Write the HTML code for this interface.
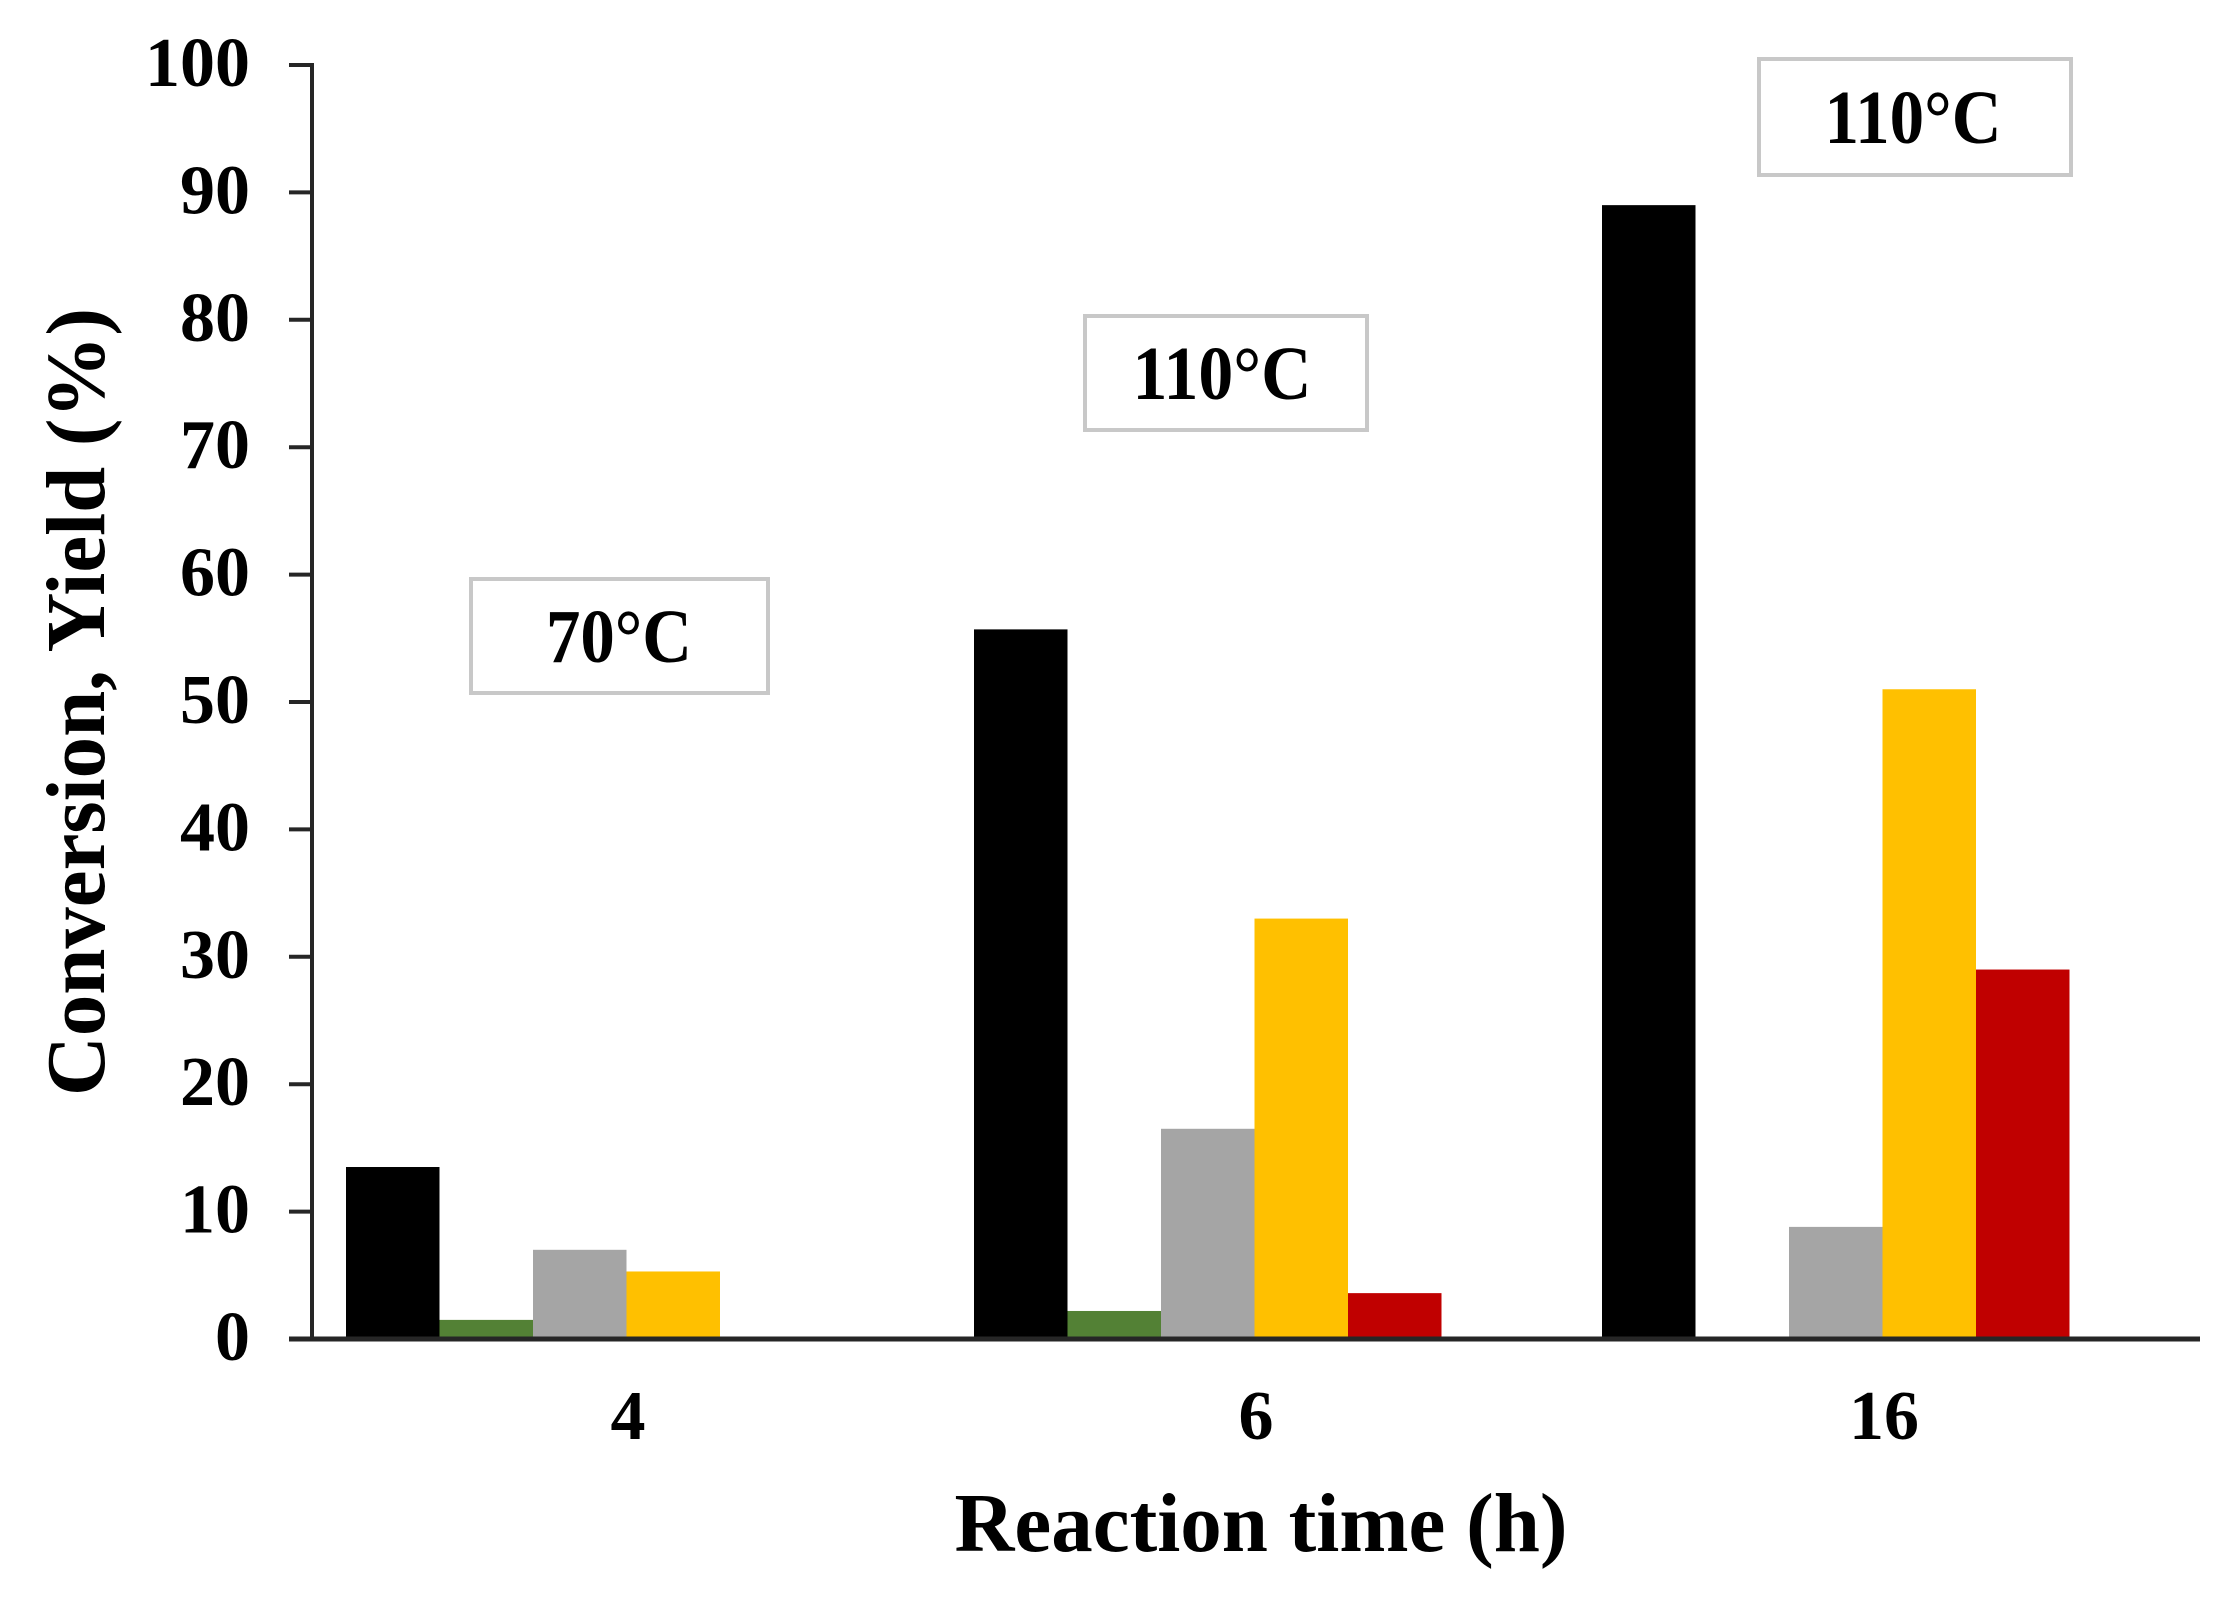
<!DOCTYPE html>
<html><head><meta charset="utf-8"><style>
html,body{margin:0;padding:0;background:#fff;}
svg{display:block;}
text{font-family:"Liberation Serif",serif;font-weight:bold;fill:#000;}
</style></head><body>
<svg id="chart" width="2235" height="1598" viewBox="0 0 2235 1598" xmlns="http://www.w3.org/2000/svg">
<g id="bars"></g>
<g id="axes"></g>
<g>
<rect x="471" y="579" width="297" height="114" fill="#fff" stroke="#c8c8c8" stroke-width="4"/>
<text x="619" y="662" font-size="76" text-anchor="middle" textLength="146" lengthAdjust="spacingAndGlyphs">70°C</text>
</g>
<g>
<rect x="1085" y="316" width="282" height="114" fill="#fff" stroke="#c8c8c8" stroke-width="4"/>
<text x="1222" y="399" font-size="76" text-anchor="middle" textLength="179" lengthAdjust="spacingAndGlyphs">110°C</text>
</g>
<g>
<rect x="1759" y="59" width="312" height="116" fill="#fff" stroke="#c8c8c8" stroke-width="4"/>
<text x="1913" y="143" font-size="76" text-anchor="middle" textLength="177" lengthAdjust="spacingAndGlyphs">110°C</text>
</g>
<text x="1261" y="1551" font-size="84" text-anchor="middle" textLength="613" lengthAdjust="spacingAndGlyphs">Reaction time (h)</text>
<text transform="translate(104,702) rotate(-90)" x="0" y="0" font-size="84" text-anchor="middle" textLength="788" lengthAdjust="spacingAndGlyphs">Conversion, Yield (%)</text>
</svg>
<script>
const categories = ["4", "6", "16"];
const conversion = [13.5, 55.7, 89];
const yieldGreen = [1.5, 2.2, 0];
const yieldGray = [7, 16.5, 8.8];
const yieldYellow = [5.3, 33, 51];
const yieldRed = [0, 3.6, 29];
const yTicks = [0, 10, 20, 30, 40, 50, 60, 70, 80, 90, 100];

const NS = "http://www.w3.org/2000/svg";
const y0 = 1339, yTop = 65, axisX = 312, axisEnd = 2200;
function yScale(v){ return y0 - (v/100)*(y0 - yTop); }
const groupW = 628, firstCenter = 628;
function xCenter(i){ return firstCenter + i*groupW; }
const barW = 93.5, barOffset = -282;
const series = [
  {name:"conversion", vals:conversion, color:"#000000"},
  {name:"green", vals:yieldGreen, color:"#538135"},
  {name:"gray", vals:yieldGray, color:"#a5a5a5"},
  {name:"yellow", vals:yieldYellow, color:"#ffc000"},
  {name:"red", vals:yieldRed, color:"#c00000"}
];
const bars = document.getElementById('bars');
categories.forEach((c, i) => {
  series.forEach((s, j) => {
    const v = s.vals[i];
    if (v <= 0) return;
    const r = document.createElementNS(NS, 'rect');
    
    
    const x = xCenter(i) + barOffset + j*barW;
    r.setAttribute('x', x);
    r.setAttribute('y', yScale(v));
    r.setAttribute('width', barW);
    r.setAttribute('height', y0 - yScale(v));
    r.setAttribute('fill', s.color);
    bars.appendChild(r);
  });
});
const axes = document.getElementById('axes');
function line(x1,y1,x2,y2,w,name){
  const l = document.createElementNS(NS,'line');
  
  
  l.setAttribute('x1',x1);l.setAttribute('y1',y1);l.setAttribute('x2',x2);l.setAttribute('y2',y2);
  l.setAttribute('stroke','#262626');l.setAttribute('stroke-width',w);
  axes.appendChild(l);
}
line(axisX, yTop-2, axisX, y0, 4, 'y-axis-line');
line(289, y0, axisEnd, y0, 5, 'x-axis-line');
yTicks.forEach(t => {
  const y = yScale(t);
  line(289, y, axisX, y, 4, 'y-tick');
  const tx = document.createElementNS(NS,'text');
  
  
  tx.setAttribute('x', 250);
  tx.setAttribute('y', y + 21);
  tx.setAttribute('font-size', 70);
  tx.setAttribute('text-anchor', 'end');
  tx.textContent = t;
  axes.appendChild(tx);
});
categories.forEach((c, i) => {
  const tx = document.createElementNS(NS,'text');
  
  
  tx.setAttribute('x', xCenter(i));
  tx.setAttribute('y', 1439);
  tx.setAttribute('font-size', 70);
  tx.setAttribute('text-anchor', 'middle');
  tx.textContent = c;
  axes.appendChild(tx);
});
</script>
</body></html>
